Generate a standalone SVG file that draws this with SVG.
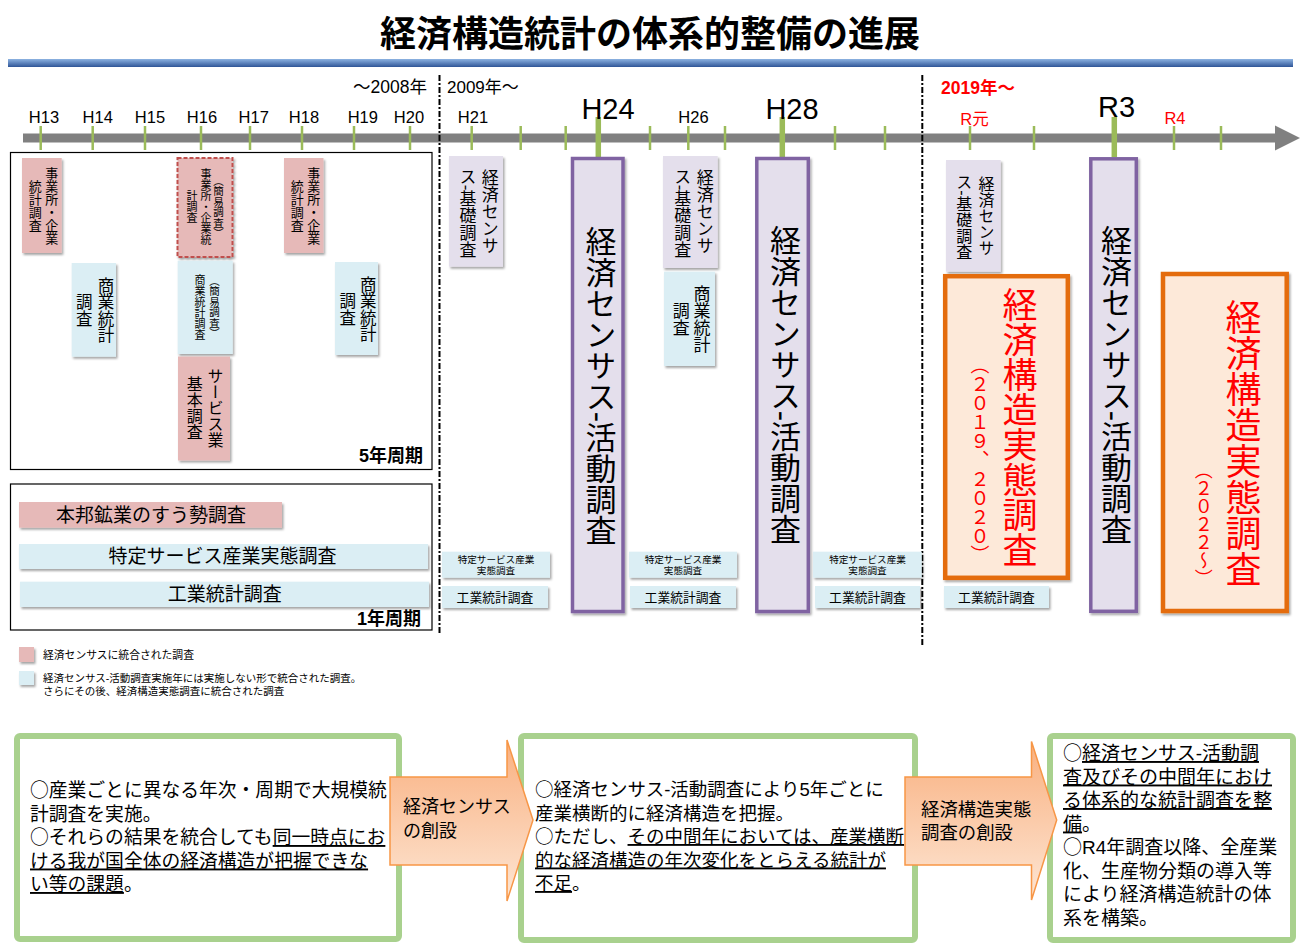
<svg xmlns="http://www.w3.org/2000/svg" width="1300" height="946" viewBox="0 0 1300 946">
<defs>
<linearGradient id="band" x1="0" y1="0" x2="0" y2="1"><stop offset="0" stop-color="#8DB3E2"/><stop offset="1" stop-color="#2F5597"/></linearGradient>
<linearGradient id="arr" x1="0" y1="0" x2="0" y2="1"><stop offset="0" stop-color="#F9B080"/><stop offset="1" stop-color="#FDE6D4"/></linearGradient>
<filter id="sh" x="-20%" y="-20%" width="150%" height="150%"><feDropShadow dx="1.5" dy="2" stdDeviation="1.2" flood-color="#000" flood-opacity="0.35"/></filter>
<style>
text{font-family:"Liberation Sans","Noto Sans CJK JP",sans-serif;fill:#000;}
.cj{font-family:"Noto Sans CJK JP",sans-serif;}
.v{writing-mode:vertical-rl;text-anchor:middle;}
.m{text-anchor:middle;}
.red{fill:#FF0000;}
.pink{fill:#E6B9B8;filter:url(#sh);}
.blue{fill:#DBEEF4;filter:url(#sh);}
.lav{fill:#E4DFEC;filter:url(#sh);}
.pur{fill:#E4DFEC;stroke:#8064A2;stroke-width:3.5;filter:url(#sh);}
.org{fill:#FDE9D9;stroke:#E46C0A;stroke-width:4.5;filter:url(#sh);}
.tk{stroke:#9BBB59;stroke-width:2.5;}
.tkb{stroke:#9BBB59;stroke-width:5.5;}
.frame{fill:none;stroke:#000;stroke-width:1.2;}
.div{stroke:#000;stroke-width:2;stroke-dasharray:6,2,2,2;}
.gbox{fill:#fff;stroke:#A9D18E;stroke-width:6;}
.arrow{fill:url(#arr);stroke:#F79646;stroke-width:1.5;}
.u{text-decoration:underline;}
</style>
</defs>
<rect width="1300" height="946" fill="#fff"/>

<g id="title">
<text x="650" y="47" class="m" font-size="36" font-weight="bold">経済構造統計の体系的整備の進展</text>
<rect x="8" y="59" width="1285" height="8" fill="url(#band)"/>
</g>

<g id="timeline">
<rect x="23" y="133.5" width="1253" height="9" fill="#808080"/>
<polygon points="1275,125.5 1300,138 1275,150.5" fill="#808080"/>
<g>
<line class="tk" x1="40.7" y1="126" x2="40.7" y2="150"/>
<line class="tk" x1="92.7" y1="126" x2="92.7" y2="150"/>
<line class="tk" x1="145" y1="126" x2="145" y2="150"/>
<line class="tk" x1="201" y1="126" x2="201" y2="150"/>
<line class="tk" x1="250" y1="126" x2="250" y2="150"/>
<line class="tk" x1="302" y1="126" x2="302" y2="150"/>
<line class="tk" x1="354" y1="126" x2="354" y2="150"/>
<line class="tk" x1="410" y1="126" x2="410" y2="150"/>
<line class="tk" x1="471.7" y1="126" x2="471.7" y2="150"/>
<line class="tk" x1="520.7" y1="126" x2="520.7" y2="150"/>
<line class="tk" x1="565.7" y1="126" x2="565.7" y2="150"/>
<line class="tk" x1="650" y1="126" x2="650" y2="150"/>
<line class="tk" x1="688.3" y1="126" x2="688.3" y2="150"/>
<line class="tk" x1="725" y1="126" x2="725" y2="150"/>
<line class="tk" x1="835" y1="126" x2="835" y2="150"/>
<line class="tk" x1="885" y1="126" x2="885" y2="150"/>
<line class="tk" x1="970" y1="126" x2="970" y2="150"/>
<line class="tk" x1="1034" y1="126" x2="1034" y2="150"/>
<line class="tk" x1="1174" y1="126" x2="1174" y2="150"/>
<line class="tk" x1="1221" y1="126" x2="1221" y2="150"/>
<line class="tkb" x1="598.3" y1="117" x2="598.3" y2="157"/>
<line class="tkb" x1="782.3" y1="117" x2="782.3" y2="157"/>
<line class="tkb" x1="1114.3" y1="117" x2="1114.3" y2="157"/>
</g>
<text x="427" y="93" text-anchor="end" font-size="17.5">～2008年</text>
<text x="447" y="93" font-size="17">2009年～</text>
<text x="941" y="94" font-size="17.5" font-weight="bold" class="red">2019年～</text>
<g font-size="16.5">
<text x="44" y="122.5" class="m">H13</text>
<text x="97.7" y="122.5" class="m">H14</text>
<text x="150" y="122.5" class="m">H15</text>
<text x="202" y="122.5" class="m">H16</text>
<text x="253.7" y="122.5" class="m">H17</text>
<text x="304" y="122.5" class="m">H18</text>
<text x="362.8" y="122.5" class="m">H19</text>
<text x="409" y="122.5" class="m">H20</text>
<text x="473" y="122.5" class="m">H21</text>
<text x="693.5" y="122.5" class="m">H26</text>
<text x="974.5" y="125" class="m red">R元</text>
<text x="1175" y="124" class="m red">R4</text>
</g>
<g font-size="29">
<text x="608" y="119" class="m">H24</text>
<text x="792" y="119" class="m">H28</text>
<text x="1116.5" y="117" class="m">R3</text>
</g>
<line class="div" x1="439.5" y1="75" x2="439.5" y2="633"/>
<line class="div" x1="922.3" y1="75" x2="922.3" y2="645"/>
</g>

<g id="five-year">
<rect class="frame" x="10.5" y="152.5" width="421.5" height="317"/>
<text x="423" y="462" text-anchor="end" font-size="18" font-weight="bold">5年周期</text>
</g>
<g id="jigyosho-h13">
<rect class="pink" x="22" y="158" width="39.7" height="95"/>
<text class="v" x="50.7" y="206" font-size="13">事業所・企業</text>
<text class="v" x="34.3" y="206" font-size="13">統計調査</text>
</g>
<g id="jigyosho-h16">
<rect x="177.5" y="158" width="55" height="99" fill="#E6B9B8" stroke="#C0504D" stroke-width="2" stroke-dasharray="4,2" filter="url(#sh)"/>
<text class="v" x="218" y="207" font-size="10.5">（簡易調査）</text>
<text class="v" x="205" y="207" font-size="11">事業所・企業統</text>
<text class="v" x="191" y="207" font-size="11">計調査</text>
</g>
<g id="jigyosho-h18">
<rect class="pink" x="284" y="158" width="39.5" height="95"/>
<text class="v" x="312.7" y="206" font-size="13">事業所・企業</text>
<text class="v" x="296.3" y="206" font-size="13">統計調査</text>
</g>
<g id="shogyo-h14">
<rect class="blue" x="71.7" y="263" width="44.3" height="93.7"/>
<text class="v" x="105" y="310" font-size="16.5">商業統計</text>
<text class="v" x="83.3" y="310" font-size="16.5">調査</text>
</g>
<g id="shogyo-h16">
<rect class="blue" x="177.7" y="260.7" width="55" height="93.3"/>
<text class="v" x="214" y="307" font-size="10.5">（簡易調査）</text>
<text class="v" x="199" y="307" font-size="11">商業統計調査</text>
</g>
<g id="service-h16">
<rect class="pink" x="178" y="356.5" width="52" height="104"/>
<text class="v" x="214" y="408" font-size="16">サービス業</text>
<text class="v" x="193.3" y="408" font-size="16">基本調査</text>
</g>
<g id="shogyo-h19">
<rect class="blue" x="335" y="262" width="43" height="93"/>
<text class="v" x="367.3" y="309" font-size="16.5">商業統計</text>
<text class="v" x="346.7" y="309" font-size="16.5">調査</text>
</g>

<g id="one-year">
<rect class="frame" x="10.5" y="484" width="421.5" height="146"/>
<text x="421" y="625" text-anchor="end" font-size="18" font-weight="bold">1年周期</text>
</g>
<g id="kogyo-suusei">
<rect class="pink" x="19" y="502" width="263" height="25.7"/>
<text x="151" y="521.5" class="m" font-size="19">本邦鉱業のすう勢調査</text>
</g>
<g id="tokutei-service">
<rect class="blue" x="19" y="544" width="409" height="25"/>
<text x="222.5" y="563" class="m" font-size="19">特定サービス産業実態調査</text>
</g>
<g id="kogyo-tokei">
<rect class="blue" x="20" y="581.7" width="409" height="25.3"/>
<text x="224.7" y="600.5" class="m" font-size="19">工業統計調査</text>
</g>

<g id="legend">
<rect class="pink" x="19" y="647" width="15" height="15"/>
<text x="43" y="659" font-size="10.8">経済センサスに統合された調査</text>
<rect class="blue" x="19" y="671" width="15" height="14"/>
<text x="43" y="681.5" font-size="10.5">経済センサス-活動調査実施年には実施しない形で統合された調査。</text>
<text x="43" y="695" font-size="10.5">さらにその後、経済構造実態調査に統合された調査</text>
</g>

<g id="kiso-h21">
<rect class="lav" x="449" y="156" width="54" height="110.7"/>
<text class="v" x="488.3" y="212" font-size="17">経済センサ</text>
<text class="v" x="466" y="213" font-size="17">ス-基礎調査</text>
</g>
<g id="katsudo-h24">
<rect class="pur" x="572.5" y="158.5" width="50.5" height="453"/>
<text class="v" x="598" y="386" font-size="31">経済センサス-活動調査</text>
</g>
<g id="kiso-h26">
<rect class="lav" x="663" y="156" width="54.7" height="112"/>
<text class="v" x="703.3" y="212" font-size="17">経済センサ</text>
<text class="v" x="680.7" y="213" font-size="17">ス-基礎調査</text>
</g>
<g id="shogyo-h26">
<rect class="blue" x="664" y="271.7" width="51" height="94.3"/>
<text class="v" x="700" y="319" font-size="17">商業統計</text>
<text class="v" x="679.3" y="319" font-size="17">調査</text>
</g>
<g id="katsudo-h28">
<rect class="pur" x="756.8" y="158.5" width="51.5" height="453"/>
<text class="v" x="782.5" y="385" font-size="31">経済センサス-活動調査</text>
</g>
<g id="kiso-r1">
<rect class="lav" x="946" y="160" width="54.7" height="111.7"/>
<text class="v" x="985" y="216" font-size="16">経済センサ</text>
<text class="v" x="962.7" y="217" font-size="16">ス-基礎調査</text>
</g>
<g id="jittai-r1">
<rect class="org" x="945.2" y="276.2" width="122.6" height="301.6"/>
<text class="v red" x="1017" y="427" font-size="35">経済構造実態調査</text>
<text class="v red" x="978" y="460" font-size="19">（２０１９、２０２０）</text>
</g>
<g id="katsudo-r3">
<rect class="pur" x="1090.8" y="158.8" width="45.5" height="452.5"/>
<text class="v" x="1113.5" y="385" font-size="31">経済センサス-活動調査</text>
</g>
<g id="jittai-r4">
<rect class="org" x="1163" y="274" width="123.7" height="337"/>
<text class="v red" x="1240" y="443" font-size="36">経済構造実態調査</text>
<text class="v red" x="1201.7" y="524" font-size="18">（２０２２～）</text>
</g>

<g id="small-h21">
<rect class="blue" x="442" y="551.7" width="108" height="26"/>
<text x="496" y="562.5" class="m" font-size="9.6">特定サービス産業</text>
<text x="496" y="574" class="m" font-size="9.6">実態調査</text>
<rect class="blue" x="442" y="586" width="106" height="22"/>
<text x="495" y="602" class="m" font-size="12.8">工業統計調査</text>
</g>
<g id="small-h26">
<rect class="blue" x="629" y="551.7" width="108" height="26"/>
<text x="683" y="562.5" class="m" font-size="9.6">特定サービス産業</text>
<text x="683" y="574" class="m" font-size="9.6">実態調査</text>
<rect class="blue" x="630" y="586" width="106" height="22"/>
<text x="683" y="602" class="m" font-size="12.8">工業統計調査</text>
</g>
<g id="small-h29">
<rect class="blue" x="813" y="551.7" width="108.7" height="26"/>
<text x="867.5" y="562.5" class="m" font-size="9.6">特定サービス産業</text>
<text x="867.5" y="574" class="m" font-size="9.6">実態調査</text>
<rect class="blue" x="815" y="586" width="105" height="22"/>
<text x="867.5" y="602" class="m" font-size="12.8">工業統計調査</text>
</g>
<g id="small-r1">
<rect class="blue" x="944" y="586" width="105" height="22"/>
<text x="996.5" y="602" class="m" font-size="12.8">工業統計調査</text>
</g>

<g id="box-before" font-size="18.8">
<rect class="gbox" x="17" y="736" width="382" height="203" rx="3"/>
<text x="30" y="797"><tspan class="cj">○</tspan>産業ごとに異なる年次・周期で大規模統</text>
<text x="30" y="820.5">計調査を実施。</text>
<text x="30" y="844"><tspan class="cj">○</tspan>それらの結果を統合しても<tspan class="u">同一時点にお</tspan></text>
<text x="30" y="867.5"><tspan class="u">ける我が国全体の経済構造が把握できな</tspan></text>
<text x="30" y="891"><tspan class="u">い等の課題</tspan>。</text>
</g>
<g id="box-census" font-size="18.5">
<rect class="gbox" x="521" y="736" width="394" height="204" rx="3"/>
<text x="535" y="796"><tspan class="cj">○</tspan>経済センサス-活動調査により5年ごとに</text>
<text x="535" y="819.5">産業横断的に経済構造を把握。</text>
<text x="535" y="843"><tspan class="cj">○</tspan>ただし、<tspan class="u">その中間年においては、産業横断</tspan></text>
<text x="535" y="866.5"><tspan class="u">的な経済構造の年次変化をとらえる統計が</tspan></text>
<text x="535" y="890"><tspan class="u">不足</tspan>。</text>
</g>
<g id="box-structure" font-size="19">
<rect class="gbox" x="1050" y="736" width="243" height="204" rx="3"/>
<text x="1063" y="760"><tspan class="cj">○</tspan><tspan class="u">経済センサス-活動調</tspan></text>
<text x="1063" y="783.5"><tspan class="u">査及びその中間年におけ</tspan></text>
<text x="1063" y="807"><tspan class="u">る体系的な統計調査を整</tspan></text>
<text x="1063" y="830.5"><tspan class="u">備</tspan>。</text>
<text x="1063" y="854"><tspan class="cj">○</tspan>R4年調査以降、全産業</text>
<text x="1063" y="877.5">化、生産物分類の導入等</text>
<text x="1063" y="901">により経済構造統計の体</text>
<text x="1063" y="924.5">系を構築。</text>
</g>

<g id="connectors">
<path class="arrow" d="M390,777 H507 V740 L533,820 L507,901 V865 H390 Z"/>
<text x="403" y="813" font-size="18">経済センサス</text>
<text x="403" y="836.5" font-size="18">の創設</text>
<path class="arrow" d="M905,777 H1031.5 V741.5 L1056.7,820 L1031.5,900 V865 H905 Z"/>
<text x="921" y="816" font-size="18.4">経済構造実態</text>
<text x="921" y="838.5" font-size="18.4">調査の創設</text>
</g>
</svg>
